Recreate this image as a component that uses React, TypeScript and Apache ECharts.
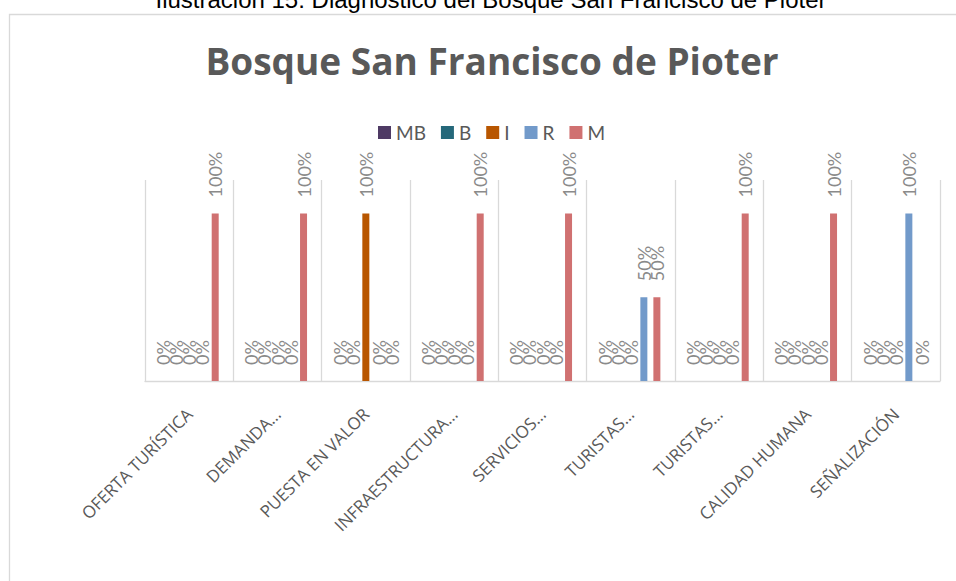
import React, { useEffect, useRef } from "react";
import * as echarts from "echarts";

const captionText = "Ilustración 15: Diagnóstico del Bosque San Francisco de Pioter";
const titleText = "Bosque San Francisco de Pioter";
const categories = [
  "OFERTA TURÍSTICA",
  "DEMANDA…",
  "PUESTA EN VALOR",
  "INFRAESTRUCTURA…",
  "SERVICIOS…",
  "TURISTAS…",
  "TURISTAS…",
  "CALIDAD HUMANA",
  "SEÑALIZACIÓN",
];
const seriesNames = ["MB", "B", "I", "R", "M"];
const valuesMB = [0, 0, 0, 0, 0, 0, 0, 0, 0];
const valuesB = [0, 0, 0, 0, 0, 0, 0, 0, 0];
const valuesI = [0, 0, 100, 0, 0, 0, 0, 0, 0];
const valuesR = [0, 0, 0, 0, 0, 50, 0, 0, 100];
const valuesM = [100, 100, 0, 100, 100, 50, 100, 100, 0];
const colors = ["#4E3A64", "#25687A", "#B85600", "#729ACA", "#D07171"];

export default function App() {
  const ref = useRef<HTMLDivElement>(null);
  useEffect(() => {
    const chart = echarts.init(ref.current!, null, { renderer: "svg" });
    const allValues = [valuesMB, valuesB, valuesI, valuesR, valuesM];
    chart.setOption({
      animation: false,
      backgroundColor: "#ffffff",
      title: {
        text: titleText,
        left: 487,
        top: 37,
        textAlign: "center",
        textStyle: {
          fontFamily: "Open Sans",
          fontWeight: "bold",
          fontSize: 37,
          color: "#595959",
        },
      },
      legend: {
        left: 373,
        top: 118,
        icon: "rect",
        itemWidth: 13,
        itemHeight: 13,
        itemGap: 15,
        textStyle: { fontFamily: "Lato", fontSize: 19, color: "#595959" },
        data: seriesNames,
      },
      graphic: [
        {
          type: "rect",
          z: -10,
          silent: true,
          shape: { x: 9.5, y: 14.5, width: 980, height: 600 },
          style: { fill: "none", stroke: "#d9d9d9", lineWidth: 1.3 },
        },
        {
          type: "text",
          silent: true,
          style: {
            text: captionText,
            x: 491,
            y: -1,
            fontFamily: "Liberation Sans",
            fontSize: 24,
            fill: "#000000",
            align: "center",
            verticalAlign: "middle",
          },
        },
      ],
      grid: { left: 145, right: 16, top: 180, bottom: 200 },
      xAxis: {
        type: "category",
        data: categories,
        axisLine: { lineStyle: { color: "#d9d9d9", width: 1.3 } },
        axisTick: { show: false },
        splitLine: { show: true, lineStyle: { color: "#d9d9d9", width: 1.3 } },
        axisLabel: {
          interval: 0,
          rotate: 45,
          margin: 30,
          fontFamily: "Open Sans",
          fontSize: 17,
          color: "#595959",
        },
      },
      yAxis: {
        type: "value",
        min: 0,
        max: 120,
        show: false,
        splitLine: { show: false },
      },
      series: seriesNames.map((name, i) => ({
        name,
        type: "bar",
        data: allValues[i],
        barWidth: 7,
        barGap: "86%",
        itemStyle: { color: colors[i] },
        label: {
          show: true,
          position: "top",
          rotate: 90,
          align: "left",
          verticalAlign: "middle",
          distance: 16,
          formatter: "{c}%",
          fontFamily: "Lato",
          fontSize: 18,
          color: "#8a8a8a",
        },
      })),
    });
    return () => chart.dispose();
  }, []);
  return (
    <div
      ref={ref}
      style={{ position: "fixed", left: 0, top: 0, width: 956, height: 581, background: "#fff" }}
    />
  );
}
